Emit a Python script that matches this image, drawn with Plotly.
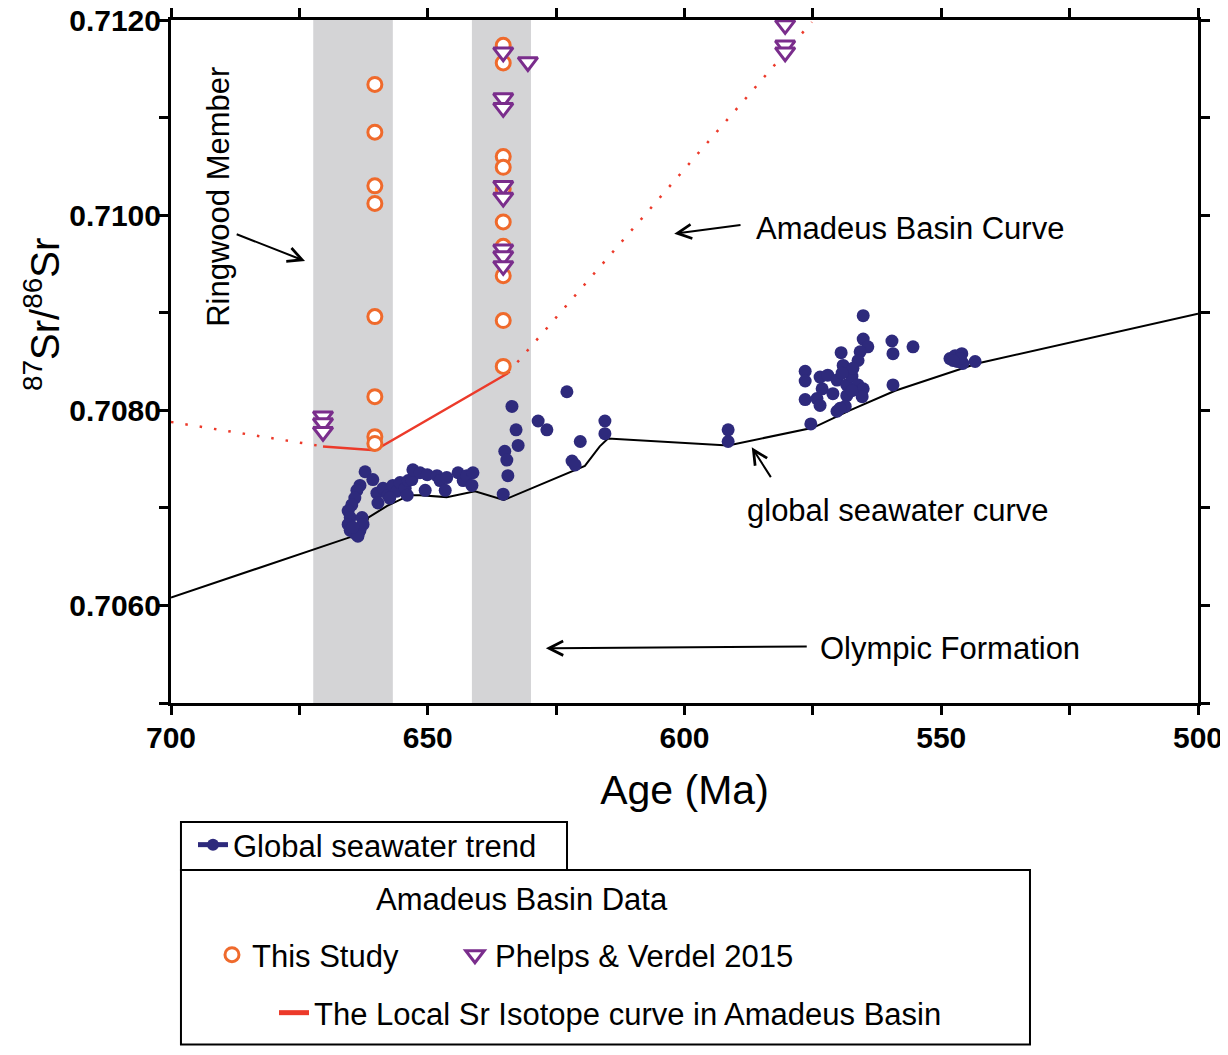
import plotly.graph_objects as go

# ---------------- data ----------------
# global seawater Sr curve (black line)
seawater_curve_age = [700, 665.1, 662.6, 661.6, 657.9, 653.5, 651.5, 646.3, 640.8, 635.2,
                      619.4, 616.5, 614.9, 591.5, 575.0, 567.8, 559.0, 543.0, 500]
seawater_curve_sr = [0.70608, 0.70670, 0.70671, 0.70690, 0.70702, 0.70713, 0.70713, 0.70711,
                     0.70717, 0.70708, 0.70743, 0.70763, 0.70771, 0.70764, 0.70782, 0.70800,
                     0.70820, 0.70848, 0.70899]

# global seawater trend data (navy dots)
global_age = [662.2, 660.7, 663.2, 663.8, 664.2, 664.8, 665.5, 665.1, 665.5, 665.1, 664.2, 663.2,
              662.8, 662.6, 663.6, 664.6,
              659.9, 659.7, 658.7, 657.7, 656.8, 656.0, 655.4, 654.4, 653.8, 653.1, 652.9, 651.5,
              650.1, 650.5, 648.2, 647.6, 646.3, 646.6, 644.1, 643.1, 642.4, 641.2, 641.4, 654.0,
              657.4,
              635.0, 634.6, 634.4, 635.3, 633.6, 632.8, 632.4, 628.5, 626.8, 622.9, 620.3, 621.9,
              621.3, 615.5, 615.5, 591.5, 591.5,
              575.4, 565.2, 565.2, 564.3, 565.8, 566.2, 559.6, 559.4, 555.5, 559.4, 569.5, 569.1,
              576.5, 576.5, 576.5, 573.6, 572.1, 570.3, 573.2, 574.2, 573.6, 571.1, 568.4, 567.4,
              567.2, 566.2, 565.2, 565.4, 568.4, 570.3, 568.7, 569.7, 567.4, 569.3,
              548.3, 547.3, 546.0, 546.9, 545.8, 546.3, 547.7, 543.4]
global_sr = [0.70737, 0.70729, 0.70723, 0.70718, 0.70710, 0.70703, 0.70697, 0.70690, 0.70683,
             0.70677, 0.70674, 0.70677, 0.70690, 0.70683, 0.70671, 0.70680,
             0.70715, 0.70705, 0.70720, 0.70713, 0.70723, 0.70717, 0.70726, 0.70720, 0.70728,
             0.70729, 0.70739, 0.70736, 0.70734, 0.70718, 0.70733, 0.70728, 0.70731, 0.70718,
             0.70736, 0.70728, 0.70733, 0.70736, 0.70723, 0.70713, 0.70710,
             0.70758, 0.70749, 0.70733, 0.70714, 0.70804, 0.70780, 0.70764, 0.70789, 0.70780,
             0.70819, 0.70768, 0.70748, 0.70744, 0.70789, 0.70776, 0.70780, 0.70768,
             0.70786, 0.70897, 0.70873, 0.70865, 0.70860, 0.70851, 0.70871, 0.70858, 0.70865,
             0.70826, 0.70859, 0.70846, 0.70840, 0.70830, 0.70811, 0.70834, 0.70836, 0.70831,
             0.70822, 0.70812, 0.70805, 0.70817, 0.70826, 0.70835, 0.70843, 0.70826, 0.70822,
             0.70814, 0.70815, 0.70799, 0.70804, 0.70802, 0.70820, 0.70838,
             0.70853, 0.70856, 0.70858, 0.70850, 0.70848, 0.70853, 0.70851, 0.70850]

# This Study (orange open circles)
this_study_age = [660.3, 660.3, 660.3, 660.3, 660.3, 660.3, 660.3, 660.3,
                  635.3, 635.3, 635.3, 635.3, 635.3, 635.3, 635.3, 635.3, 635.3, 635.3]
this_study_sr = [0.71134, 0.71085, 0.71030, 0.71012, 0.70896, 0.70814, 0.70773, 0.70766,
                 0.71174, 0.71156, 0.71060, 0.71049, 0.71027, 0.70993, 0.70968, 0.70938,
                 0.70892, 0.70845]

# Phelps & Verdel 2015 (purple open down-triangles)
phelps_age = [670.4, 670.4, 670.4,
              635.3, 635.3, 635.3, 635.3, 635.3, 635.3, 635.3, 635.3, 630.5,
              580.4, 580.4, 580.4]
phelps_sr = [0.70794, 0.70787, 0.70778,
             0.71167, 0.71120, 0.71110, 0.71030, 0.71018, 0.70965, 0.70958, 0.70948, 0.71157,
             0.71195, 0.71174, 0.71167]

# Local Sr isotope curve in Amadeus Basin (solid red)
local_curve_age = [670.4, 660.3, 634.4]
local_curve_sr = [0.70763, 0.70759, 0.70838]

# Amadeus Basin curve extrapolation (dotted red)
basin_curve_age = [700, 670.4, None, 634.4, 575.2]
basin_curve_sr = [0.70788, 0.70763, None, 0.70838, 0.71198]

# shaded intervals (Ringwood Member, Olympic Formation)
band_ranges = [(672.3, 656.8), (641.4, 629.9)]

# axis ticks
x_tickvals = [700, 675, 650, 625, 600, 575, 550, 525, 500]
x_ticktext = ['700', '', '650', '', '600', '', '550', '', '500']
y_tickvals = [0.7050, 0.7060, 0.7070, 0.7080, 0.7090, 0.7100, 0.7110, 0.7120]
y_ticktext = ['', '0.7060', '', '0.7080', '', '0.7100', '', '0.7120']

# ---------------- styling ----------------
FONT = "Liberation Sans, Arial, Helvetica, sans-serif"
NAVY = "#2E2A7C"
ORANGE = "#EF6A2C"
PURPLE = "#7A2D8C"
RED = "#EC3A2A"
TXT = 31
TICK = 30

fig = go.Figure()

fig.add_trace(go.Scatter(x=seawater_curve_age, y=seawater_curve_sr, mode="lines",
                         line=dict(color="black", width=2), showlegend=False, hoverinfo="skip"))
fig.add_trace(go.Scatter(x=global_age, y=global_sr, mode="markers",
                         marker=dict(color=NAVY, size=13), showlegend=False))
fig.add_trace(go.Scatter(x=basin_curve_age, y=basin_curve_sr, mode="lines",
                         line=dict(color=RED, width=2.5, dash="2.5px,12px"),
                         showlegend=False, connectgaps=False))
fig.add_trace(go.Scatter(x=local_curve_age, y=local_curve_sr, mode="lines",
                         line=dict(color=RED, width=2.5),
                         name="The Local Sr Isotope curve in Amadeus Basin", legend="legend3"))
fig.add_trace(go.Scatter(x=this_study_age, y=this_study_sr, mode="markers",
                         marker=dict(symbol="circle", color="white", size=14,
                                     line=dict(color=ORANGE, width=3)),
                         name="This Study", legend="legend2"))
fig.add_trace(go.Scatter(x=phelps_age, y=phelps_sr, mode="markers",
                         marker=dict(symbol="triangle-down", color="white", size=17,
                                     line=dict(color=PURPLE, width=3)),
                         name="Phelps & Verdel 2015", legend="legend4"))
# legend entry for global seawater trend
fig.add_trace(go.Scatter(x=[None], y=[None], mode="lines+markers",
                         line=dict(color=NAVY, width=2), marker=dict(color=NAVY, size=9),
                         name="Global seawater trend", legend="legend"))

shapes = []
for x0, x1 in band_ranges:
    shapes.append(dict(type="rect", xref="x", yref="y domain", x0=x0, x1=x1, y0=0, y1=1,
                       fillcolor="#D4D4D6", line=dict(width=0), layer="below"))
# legend boxes
shapes.append(dict(type="rect", xref="paper", yref="paper", x0=0.0097, x1=0.3856,
                   y0=-0.2445, y1=-0.1742, line=dict(color="black", width=2)))
shapes.append(dict(type="rect", xref="paper", yref="paper", x0=0.0097, x1=0.8364,
                   y0=-0.5, y1=-0.2445, line=dict(color="black", width=2)))

annotations = []
def text_ann(t, x, y, angle=0):
    annotations.append(dict(text=t, x=x, y=y, xref="x", yref="y", showarrow=False,
                            textangle=angle, font=dict(family=FONT, size=TXT, color="black"),
                            xanchor="center", yanchor="middle"))

def arrow_ann(x, y, ax, ay):
    annotations.append(dict(text="", x=x, y=y, ax=ax, ay=ay, xref="x", yref="y",
                            axref="x", ayref="y", showarrow=True, arrowhead=5, arrowsize=1.4,
                            arrowwidth=2, arrowcolor="black"))

text_ann("Ringwood Member", 690.8, 0.71019, -90)
text_ann("Amadeus Basin Curve", 556.1, 0.70986)
text_ann("global seawater curve", 558.4, 0.70697)
text_ann("Olympic Formation", 548.3, 0.70556)
arrow_ann(673.9, 0.70953, 687.5, 0.70981)
arrow_ann(602.0, 0.70981, 588.8, 0.70990)
arrow_ann(586.9, 0.70762, 583.0, 0.70730)
arrow_ann(627.0, 0.70556, 575.9, 0.70558)

# y-axis title
annotations.append(dict(text="<sup>87</sup>Sr/<sup>86</sup>Sr", xref="paper", yref="paper",
                        x=-0.1256, y=0.568, showarrow=False, textangle=-90,
                        font=dict(family=FONT, size=40, color="black"),
                        xanchor="center", yanchor="middle"))
# legend box title
annotations.append(dict(text="Amadeus Basin Data", xref="paper", yref="paper",
                        x=0.3418, y=-0.2884, showarrow=False,
                        font=dict(family=FONT, size=TXT, color="black"),
                        xanchor="center", yanchor="middle"))

leg_common = dict(bgcolor="rgba(0,0,0,0)", borderwidth=0,
                  font=dict(family=FONT, size=TXT, color="black"),
                  xanchor="left", yanchor="middle")

fig.update_layout(
    width=1212, height=1039, autosize=False,
    margin=dict(l=163, r=22, t=12, b=344, autoexpand=False),
    paper_bgcolor="white", plot_bgcolor="white",
    font=dict(family=FONT, color="black"),
    shapes=shapes, annotations=annotations,
    legend=dict(x=0.0214, y=-0.2079, itemsizing="constant", **leg_common),
    legend2=dict(x=0.0399, y=-0.369, itemsizing="trace", **leg_common),
    legend4=dict(x=0.2765, y=-0.369, itemsizing="trace", **leg_common),
    legend3=dict(x=0.1003, y=-0.4539, itemsizing="constant", **leg_common),
    xaxis=dict(range=[700, 500], tickvals=x_tickvals, ticktext=x_ticktext,
               ticks="outside", ticklen=9, tickwidth=2.5, tickcolor="black",
               showline=True, linewidth=3, linecolor="black", mirror="ticks",
               showgrid=False, zeroline=False, ticklabeloverflow="allow",
               tickfont=dict(family=FONT, size=TICK, color="black", weight="bold"),
               ticklabelstandoff=-3,
               title=dict(text="Age (Ma)", font=dict(family=FONT, size=41, color="black"),
                          standoff=23)),
    yaxis=dict(range=[0.7050, 0.7120], tickvals=y_tickvals, ticktext=y_ticktext,
               ticks="outside", ticklen=9, tickwidth=2.5, tickcolor="black",
               showline=True, linewidth=3, linecolor="black", mirror="ticks",
               showgrid=False, zeroline=False, ticklabeloverflow="allow",
               ticklabelstandoff=-8,
               tickfont=dict(family=FONT, size=TICK, color="black", weight="bold")),
)

fig.write_html("out.html")
